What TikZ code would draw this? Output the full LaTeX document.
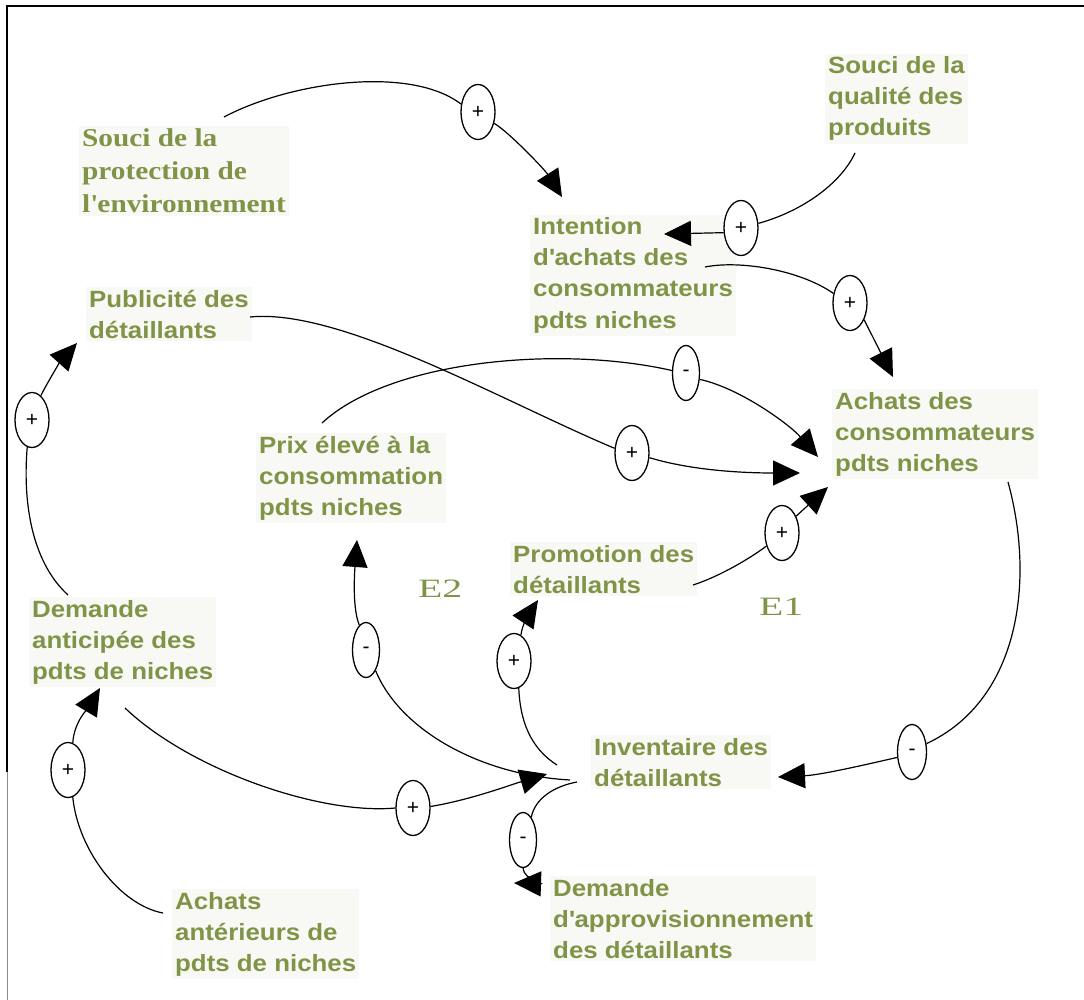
\documentclass[tikz,border=0pt]{standalone}
\usepackage{fontspec}
\usetikzlibrary{arrows.meta,shapes.geometric}
\newfontfamily\lblsans[FakeStretch=1.1]{Liberation Sans}
\newfontfamily\lblserif[FakeStretch=1.14]{Liberation Serif}
\newfontfamily\loopfont[FakeStretch=1.5]{Liberation Serif}
\newfontfamily\signfont{Liberation Sans}
\definecolor{lblgreen}{RGB}{128,148,72}
\definecolor{lblbg}{RGB}{248,248,244}

\begin{document}
\begin{tikzpicture}[x=1pt,y=-1pt,
  % variables are placed by the baseline of their last line
  var/.style={anchor=base west, align=left, text=lblgreen, fill=lblbg, inner sep=3pt,
    font=\lblsans\bfseries\fontsize{23.5}{31}\selectfont},
  envvar/.style={var, font=\lblserif\bfseries\fontsize{25.7}{33}\selectfont},
  loopname/.style={anchor=base west, inner sep=0pt, text=lblgreen,
    font=\loopfont\fontsize{26.5}{30}\selectfont},
  sign/.style={draw, ellipse, fill=white, line width=1.3pt, minimum width=34pt,
    minimum height=55pt, inner sep=0pt, font=\signfont\fontsize{21}{21}\selectfont},
  neg/.style={sign, minimum width=27pt},
  link/.style={line width=1.2pt},
  arr/.style={link, -{Triangle[length=27pt,width=25pt]}},
  frame/.style={line width=1.5pt}]

\useasboundingbox (0,0) rectangle (1084,1000);

% frame
\draw[frame] (7,772) -- (7,6) -- (1084,6);
\draw[frame, black!45, line width=1pt] (7,772) -- (7,1000);

% variables
\node[var]    (souciQ) at (825,136) {Souci de la\\qualité des\\produits};
\node[envvar] (souciP) at (79,213)  {Souci de la\\protection de\\l\textquotesingle environnement};
\node[var]    (intent) at (530,328) {Intention\\d\textquotesingle achats des\\consommateurs\\pdts niches};
\node[var]    (pub)    at (86,338)  {Publicité des\\détaillants};
\node[var]    (achats) at (832,471) {Achats des\\consommateurs\\pdts niches};
\node[var]    (prix)   at (256,515) {Prix élevé à la\\consommation\\pdts niches};
\node[var]    (promo)  at (510,593) {Promotion des\\détaillants};
\node[var]    (demAnt) at (29,679)  {Demande\\anticipée des\\pdts de niches};
\node[var]    (invent) at (591,786) {Inventaire des\\détaillants};
\node[var]    (demApp) at (550,958) {Demande\\d\textquotesingle approvisionnement\\des détaillants};
\node[var]    (achAnt) at (172,971) {Achats\\antérieurs de\\pdts de niches};

% loop names
\node[loopname] (E2) at (418,597) {E2};
\node[loopname] (E1) at (759,615) {E1};

% polarity markers
\node[sign] (e1)  at (478,112) {+};
\node[sign] (e2)  at (741,228) {+};
\node[sign] (e3)  at (850,303) {+};
\node[neg]  (e4)  at (686,373) {-};
\node[sign] (e5)  at (632,453) {+};
\node[sign] (e6)  at (782,533) {+};
\node[neg, minimum width=29pt] (e7) at (912,752) {-};
\node[sign] (e8)  at (32,420)  {+};
\node[sign] (e9)  at (68,770)  {+};
\node[sign] (e10) at (413,808) {+};
\node[neg]  (e11) at (366,650) {-};
\node[sign] (e12) at (514,661) {+};
\node[neg]  (e13) at (523,840) {-};

% free ends of the links
\coordinate (s1)  at (224,117);  \coordinate (t1)  at (562,197);
\coordinate (s2)  at (855,153);  \coordinate (t2)  at (664,234);
\coordinate (s3)  at (705,267);  \coordinate (t3)  at (893,377);
\coordinate (s4)  at (322,423);  \coordinate (t4)  at (818,457);
\coordinate (s5)  at (250,317);  \coordinate (t5)  at (800,473);
\coordinate (s6)  at (693,585);  \coordinate (t6)  at (828,487);
\coordinate (s7)  at (1008,482); \coordinate (t7)  at (778,777);
\coordinate (s8)  at (68,595);   \coordinate (t8)  at (77,343);
\coordinate (s9)  at (163,913);  \coordinate (t9)  at (100,688);
\coordinate (s10) at (125,708);  \coordinate (t10) at (547,774);
\coordinate (s11) at (570,780);  \coordinate (t11) at (357,540);
\coordinate (s12) at (557,765);  \coordinate (t12) at (538,600);
\coordinate (s13) at (577,782);  \coordinate (t13) at (514,883);

% environment concern -> purchase intention
\draw[link] (s1) .. controls (290,82) and (410,65) .. (e1.155);
\draw[arr]  (e1.-35) .. controls (510,133) and (545,170) .. (t1);
% quality concern -> purchase intention
\draw[link] (s2) .. controls (840,185) and (800,212) .. (e2.15);
\draw[arr]  (e2.195) -- (t2);
% purchase intention -> consumer purchases
\draw[link] (s3) .. controls (740,260) and (800,270) .. (e3.150);
\draw[arr]  (e3.-50) -- (t3);
% high price -> consumer purchases
\draw[link] (s4) .. controls (390,360) and (560,345) .. (e4.170);
\draw[arr]  (e4.-25) .. controls (740,388) and (790,425) .. (t4);
% advertising -> consumer purchases
\draw[link] (s5) .. controls (340,308) and (500,400) .. (e5.165);
\draw[arr]  (e5.-15) .. controls (690,470) and (740,473) .. (t5);
% promotion -> consumer purchases
\draw[link] (s6) .. controls (715,578) and (745,562) .. (e6.220);
\draw[arr]  (e6.50) -- (t6);
% consumer purchases -> inventory
\draw[link] (s7) .. controls (1035,580) and (1020,700) .. (e7.30);
\draw[arr]  (e7.200) .. controls (860,766) and (820,775) .. (t7);
% anticipated demand -> advertising
\draw[link] (s8) .. controls (35,565) and (22,510) .. (e8.-100);
\draw[arr]  (e8.70) .. controls (46,385) and (60,362) .. (t8);
% past purchases -> anticipated demand
\draw[link] (s9) .. controls (120,905) and (78,850) .. (e9.-80);
\draw[arr]  (e9.80) .. controls (74,722) and (88,708) .. (t9);
% anticipated demand -> inventory
\draw[link] (s10) .. controls (190,770) and (320,815) .. (e10.180);
\draw[arr]  (e10.5) .. controls (470,800) and (510,785) .. (t10);
% inventory -> high price
\draw[link] (s11) .. controls (480,775) and (400,730) .. (e11.-65);
\draw[arr]  (e11.105) .. controls (353,610) and (354,580) .. (t11);
% inventory -> promotion
\draw[link] (s12) .. controls (530,748) and (520,720) .. (e12.-80);
\draw[arr]  (e12.75) .. controls (522,625) and (530,612) .. (t12);
% inventory -> supply demand
\draw[link] (s13) .. controls (555,786) and (535,798) .. (e13.70);
\draw[arr]  (e13.-90) .. controls (524,880) and (545,884) .. (t13);

\end{tikzpicture}
\end{document}
